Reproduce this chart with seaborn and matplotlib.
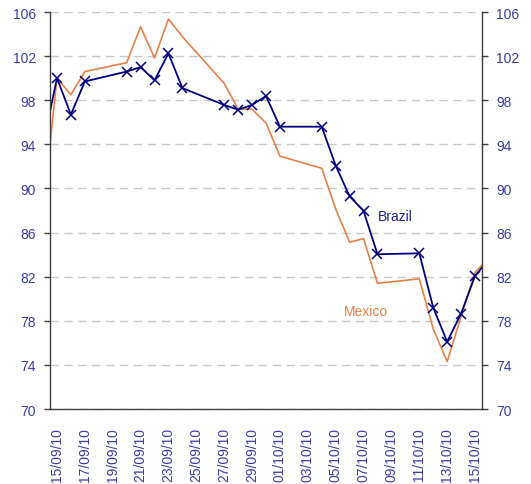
import datetime as dt
import matplotlib
matplotlib.use("Agg")
import matplotlib.pyplot as plt
import matplotlib.dates as mdates
import numpy as np
import pandas as pd
import seaborn as sns

# ---- data ----
dates = ["14/09/10", "15/09/10", "16/09/10", "17/09/10", "20/09/10", "21/09/10",
         "22/09/10", "23/09/10", "24/09/10", "27/09/10", "28/09/10", "29/09/10",
         "30/09/10", "01/10/10", "04/10/10", "05/10/10", "06/10/10", "07/10/10",
         "08/10/10", "11/10/10", "12/10/10", "13/10/10", "14/10/10", "15/10/10",
         "16/10/10"]
brazil = [94.0, 100.0, 96.7, 99.7, 100.6, 101.0, 99.8, 102.25, 99.1, 97.57,
          97.14, 97.57, 98.38, 95.6, 95.6, 92.07, 89.29, 87.96, 84.03, 84.12,
          79.2, 76.1, 78.65, 82.07, 83.6]
mexico = [88.0, 100.0, 98.5, 100.6, 101.4, 104.67, 101.83, 105.37, 103.76, 99.53,
          97.2, 97.18, 95.94, 92.92, 91.83, 88.14, 85.12, 85.45, 81.4, 81.8,
          77.26, 74.3, 78.4, 82.4, 83.7]
tick_labels = ["15/09/10", "17/09/10", "19/09/10", "21/09/10", "23/09/10",
               "25/09/10", "27/09/10", "29/09/10", "01/10/10", "03/10/10",
               "05/10/10", "07/10/10", "09/10/10", "11/10/10", "13/10/10",
               "15/10/10"]
y_ticks = [70, 74, 78, 82, 86, 90, 94, 98, 102, 106]

sns.set_style("white")
plt.rcParams['font.family'] = ['Liberation Sans', 'DejaVu Sans']

def to_num(s, shift=0.5):
    d = dt.datetime.strptime(s, "%d/%m/%y")
    return mdates.date2num(d) + shift

df = pd.DataFrame({
    "x": [to_num(s) for s in dates] * 2,
    "value": brazil + mexico,
    "series": ["Brazil"] * len(dates) + ["Mexico"] * len(dates),
})

BLUE = "#000080"
ORANGE = "#E8804A"
TICKC = "#3C3CA6"

fig = plt.figure(figsize=(5.31, 4.85), dpi=100)
ax = fig.add_axes([50 / 531, 1 - 410 / 485, 432 / 531, 397 / 485])

sns.lineplot(data=df[df.series == "Mexico"], x="x", y="value", ax=ax,
             color=ORANGE, lw=1.2, legend=False)
sns.lineplot(data=df[df.series == "Brazil"], x="x", y="value", ax=ax,
             color=BLUE, lw=1.3, marker="x", markersize=7, markeredgewidth=1.1,
             markeredgecolor=BLUE, legend=False)

x0 = to_num("15/09/10", 0.0)
x1 = to_num("15/10/10", 1.0)
ax.set_xlim(x0, x1)
ax.set_ylim(70, 106)
ax.set_yticks(y_ticks)
ax.set_yticklabels([str(v) for v in y_ticks])

# major ticks: labels at slot centres, minor ticks: slot boundaries every 2 days
ax.set_xticks([to_num(s) for s in tick_labels])
ax.set_xticklabels(tick_labels, rotation=90, va="top", ha="center")
ax.set_xticks([x0 + 2 * k for k in range(16)], minor=True)
ax.tick_params(axis="x", which="major", length=0, pad=13, labelsize=10,
               labelcolor=TICKC)
ax.tick_params(axis="x", which="minor", direction="in", length=5, width=1,
               color="#404040")
ax.tick_params(axis="y", which="major", direction="out", length=4, width=1,
               color="#404040", left=True, right=True, labelleft=True,
               labelright=True, labelsize=10, labelcolor=TICKC, pad=6)

ax.set_xlabel("")
ax.set_ylabel("")
ax.yaxis.grid(True, color="#C8C8C8", linestyle=(0, (6, 4)), lw=1)
ax.xaxis.grid(False)
ax.set_axisbelow(True)

for side in ["left", "bottom", "right"]:
    ax.spines[side].set_visible(True)
    ax.spines[side].set_color("#404040")
    ax.spines[side].set_linewidth(1)
ax.spines["top"].set_visible(False)

ax.text(x0 + 23.53, 87.5, "Brazil", color="#23238F", fontsize=10,
        ha="left", va="center")
ax.text(x0 + 21.09, 78.9, "Mexico", color=ORANGE, fontsize=10,
        ha="left", va="center")

fig.savefig("out.png", dpi=100)
